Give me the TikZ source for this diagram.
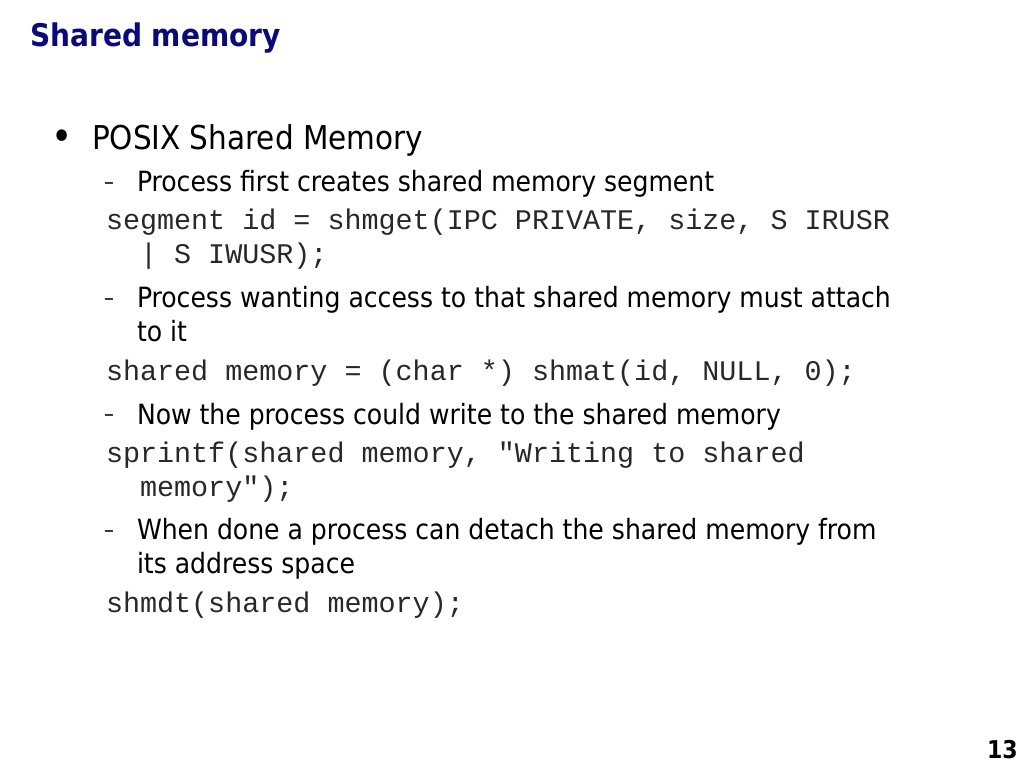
\documentclass[tikz,border=0pt]{standalone}
\usepackage{fontspec}
\setmainfont{DejaVu Sans Condensed}
\newfontfamily\codefont{Liberation Mono}
\definecolor{titleblue}{RGB}{10,10,120}
\definecolor{codegray}{RGB}{40,40,40}
\begin{document}
\begin{tikzpicture}[x=1pt,y=-1pt]
\useasboundingbox[fill=white] (0,0) rectangle (1024,768);
\tikzset{
  txt/.style={anchor=base west, inner sep=0pt, outer sep=0pt},
  title/.style={txt, font=\bfseries\fontsize{31.2}{36}\selectfont, text=titleblue},
  lvlone/.style={txt, font=\fontsize{32.8}{38}\selectfont},
  prose/.style={txt, font=\fontsize{27.9}{34}\selectfont},
  code/.style={txt, font=\codefont\fontsize{28.4}{34}\selectfont, text=codegray},
  dashmark/.style={anchor=center, inner sep=0pt, font=\fontsize{22}{26}\selectfont},
  bulletmark/.style={anchor=center, inner sep=0pt, font=\fontsize{40}{44}\selectfont},
  pagenum/.style={anchor=base east, inner sep=0pt, font=\bfseries\fontsize{24.5}{30}\selectfont}
}
\node[title] (t) at (30,46) {Shared memory};
\node[bulletmark] (b1) at (62,140) {•};
\node[lvlone] (l1) at (92,149) {POSIX Shared Memory};
\node[dashmark] (d1) at (109,186) {–};
\node[prose] (p1) at (137,191) {Process first creates shared memory segment};
\node[code] (c1) at (106,229) {segment id = shmget(IPC PRIVATE, size, S IRUSR};
\node[code] (c2) at (106,263) {\ \ | S IWUSR);};
\node[dashmark] (d2) at (109,302) {–};
\node[prose] (p2) at (137,307) {Process wanting access to that shared memory must attach};
\node[prose] (p3) at (137,341) {to it};
\node[code] (c3) at (106,380) {shared memory = (char *) shmat(id, NULL, 0);};
\node[dashmark] (d3) at (109,418) {–};
\node[prose] (p4) at (137,424) {Now the process could write to the shared memory};
\node[code] (c4) at (106,462) {sprintf(shared memory, "Writing to shared};
\node[code] (c5) at (106,496) {\ \ memory");};
\node[dashmark] (d4) at (109,534) {–};
\node[prose] (p5) at (137,539) {When done a process can detach the shared memory from};
\node[prose] (p6) at (137,573) {its address space};
\node[code] (c6) at (106,612) {shmdt(shared memory);};
\node[pagenum] (n) at (1018,758) {13};
\end{tikzpicture}
\end{document}
